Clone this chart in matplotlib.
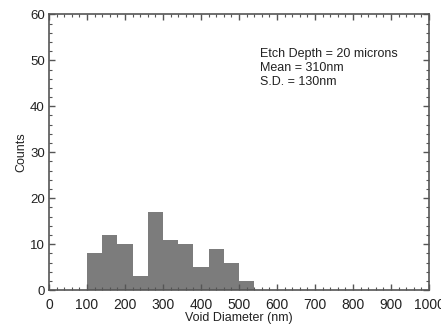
import numpy as np
import matplotlib
matplotlib.use("Agg")
import matplotlib.pyplot as plt
from matplotlib.ticker import MultipleLocator

# histogram of void diameters, 40 nm bins
bin_edges = [100, 140, 180, 220, 260, 300, 340, 380, 420, 460, 500, 540]
counts = [8, 12, 10, 3, 17, 11, 10, 5, 9, 6, 2]

info_lines = ["Etch Depth = 20 microns", "Mean = 310nm", "S.D. = 130nm"]

plt.rcParams['font.family'] = ['Liberation Sans', 'DejaVu Sans']
axis_col = '#555555'
text_col = '#222222'

fig = plt.figure(figsize=(4.41, 3.26), dpi=100)
ax = fig.add_axes([0.111, 0.110, 0.862, 0.846])

ax.stairs(counts, bin_edges, fill=True, color='#7c7c7c', linewidth=0)

ax.set_xlim(0, 1000)
ax.set_ylim(0, 60)
ax.xaxis.set_major_locator(MultipleLocator(100))
ax.xaxis.set_minor_locator(MultipleLocator(20))
ax.yaxis.set_major_locator(MultipleLocator(10))
ax.yaxis.set_minor_locator(MultipleLocator(2))

ax.tick_params(which='both', direction='in', top=True, right=True,
               color=axis_col, labelsize=9.5, labelcolor=text_col)
ax.tick_params(which='major', length=4.5, width=1, pad=3)
ax.tick_params(which='minor', length=2.5, width=0.8)
ax.tick_params(axis='x', which='major', pad=5.5)
for lbl in ax.get_xticklabels():
    lbl.set_family(['Liberation Sans Narrow', 'Liberation Sans'])
    lbl.set_fontsize(10)
for s in ax.spines.values():
    s.set_color(axis_col)
    s.set_linewidth(1.2)

ax.set_xlabel('Void Diameter (nm)', fontsize=9, labelpad=0.5, color=text_col)
ax.set_ylabel('Counts', fontsize=9, labelpad=2, color=text_col)

ax.text(555, 52.6, "\n".join(info_lines), fontsize=9, va='top',
        linespacing=1.2, color=text_col)

fig.savefig('out.png', dpi=100)
